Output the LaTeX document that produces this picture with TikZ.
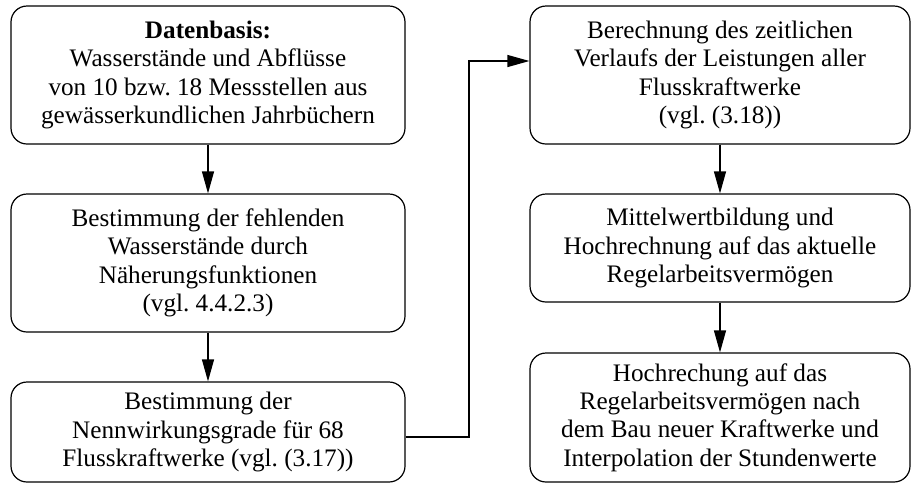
\documentclass[tikz,border=0pt]{standalone}
\usepackage{fontspec}
\setmainfont{Liberation Serif}
\usetikzlibrary{arrows.meta}
\frenchspacing

\tikzset{
  kasten/.style={draw, line width=0.6pt, rounded corners=8pt, align=center, inner sep=0pt},
  pfeil/.style={-{Triangle[length=11pt,width=6pt]}, line width=0.6pt}
}

\begin{document}
\begin{tikzpicture}[x=0.5pt, y=-0.5pt, font=\fontsize{12.6}{14.2}\selectfont]
  \useasboundingbox (0,0) rectangle (911,484);
  % linke Spalte
  \node[kasten, minimum width=197pt, minimum height=69pt] (basis) at (208,75)
    {\textbf{Datenbasis:}\\Wasserstände und Abflüsse\\von 10 bzw. 18 Messstellen aus\\gewässerkundlichen Jahrbüchern};
  \node[kasten, minimum width=197pt, minimum height=69pt] (fehlend) at (208,263)
    {Bestimmung der fehlenden\\Wasserstände durch\\Näherungsfunktionen\\(vgl. 4.4.2.3)};
  \node[kasten, minimum width=197pt, minimum height=50pt] (nenn) at (208,432)
    {Bestimmung der\\Nennwirkungsgrade für 68\\Flusskraftwerke (vgl. (3.17))};
  % rechte Spalte
  \node[kasten, minimum width=190pt, minimum height=69pt] (verlauf) at (720,75)
    {Berechnung des zeitlichen\\Verlaufs der Leistungen aller\\Flusskraftwerke\\(vgl. (3.18))};
  \node[kasten, minimum width=190pt, minimum height=54pt] (mittel) at (720,248)
    {Mittelwertbildung und\\Hochrechnung auf das aktuelle\\Regelarbeitsvermögen};
  \node[kasten, minimum width=190pt, minimum height=64.5pt] (neubau) at (720,417.5)
    {Hochrechung auf das\\Regelarbeitsvermögen nach\\dem Bau neuer Kraftwerke und\\Interpolation der Stundenwerte};
  % Pfeile
  \draw[pfeil] (basis) -- (fehlend);
  \draw[pfeil] (fehlend) -- (nenn);
  \coordinate (knick) at (469,437);
  \draw[pfeil] (nenn.east |- knick) -- (knick) |- ([yshift=7pt]verlauf.west);
  \draw[pfeil] (verlauf) -- (mittel);
  \draw[pfeil] (mittel) -- (neubau);
\end{tikzpicture}
\end{document}
